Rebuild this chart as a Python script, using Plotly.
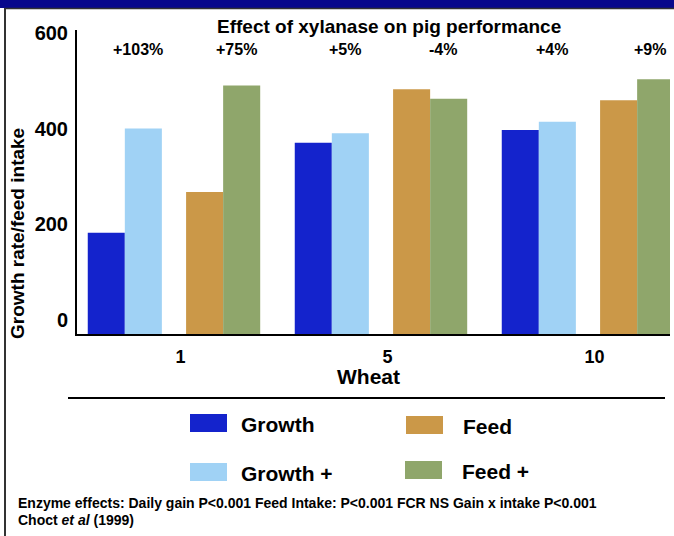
import plotly.graph_objects as go

# Canvas and plot-area geometry (pixels)
W, H = 674, 536
L, R, T, B = 77, 4, 30, 202

# Data
categories = ["1", "5", "10"]
series_names = ["Growth", "Growth +", "Feed", "Feed +"]
growth = [212, 400, 427]
growth_plus = [430, 420, 444]
feed = [297, 512, 489]
feed_plus = [520, 492, 533]
change_labels = ["+103%", "+75%", "+5%", "-4%", "+4%", "+9%"]
y_ticks = [0, 200, 400, 600]

colors = ["#1423CC", "#A0D2F5", "#CB9848", "#8FA66B"]
FONT = "Liberation Sans, Arial, sans-serif"

PW, PH = W - L - R, H - T - B


def px_x(px):
    return (px - L) / PW


def px_y(py):
    return (H - B - py) / PH


def bold(size):
    return dict(family=FONT, size=size, color="black", weight="bold")


# Bar placement within each category slot (x axis units, one unit per category)
BW = 0.179
offsets = [0.052, 0.052 + BW, 0.527, 0.527 + BW]
x_idx = list(range(len(categories)))

fig = go.Figure()
for name, vals, col, off in zip(series_names, [growth, growth_plus, feed, feed_plus], colors, offsets):
    fig.add_trace(go.Bar(
        x=x_idx, y=vals, name=name, marker=dict(color=col, line=dict(width=0)),
        offset=off, width=BW, showlegend=False,
    ))

annotations = []


def note(text, px, py, size, xanchor="center", **kw):
    annotations.append(dict(
        x=px_x(px), y=px_y(py), xref="paper", yref="paper", text=text,
        showarrow=False, xanchor=xanchor, yanchor="middle", font=bold(size), **kw,
    ))


# Percentage change above each pair of bars
pair_centers = []
for i in x_idx:
    pair_centers.append(i + offsets[0] + BW)
    pair_centers.append(i + offsets[2] + BW)
for xc, lab in zip(pair_centers, change_labels):
    annotations.append(dict(
        x=xc, y=px_y(49), xref="x", yref="paper", text=lab, showarrow=False,
        xanchor="center", yanchor="middle", xshift=13, font=bold(16),
    ))

# Title and axis titles
note("Effect of xylanase on pig performance", 389, 27, 19)
note("Growth rate/feed intake", 17, 234, 19, textangle=-90)
note("Wheat", 368, 376, 21)

# Legend drawn as swatches with labels, two columns
shapes = []
legend_pos = [(190, 414), (190, 463), (406, 416), (405, 461)]
label_gap = [49, 49, 55, 55]
for name, col, (sx, sy), gap in zip(series_names, colors, legend_pos, label_gap):
    shapes.append(dict(
        type="rect", xref="paper", yref="paper",
        x0=px_x(sx), x1=px_x(sx + 37), y0=px_y(sy), y1=px_y(sy + 18),
        fillcolor=col, line=dict(width=0),
    ))
    note(name, sx + gap, sy + 10, 21, xanchor="left")

# Footnotes
note("Enzyme effects: Daily gain P<0.001 Feed Intake: P<0.001 FCR NS Gain x intake P<0.001",
     16, 503, 14, xanchor="left")
note("Choct <i>et al</i> (1999)", 16, 520, 14, xanchor="left")

# Rule under the axis title
shapes.append(dict(
    type="line", xref="paper", yref="paper",
    x0=px_x(68), x1=px_x(665), y0=px_y(398), y1=px_y(398),
    line=dict(color="black", width=2),
))

# Slide frame: navy band at the top and a thin border
shapes.append(dict(
    type="rect", xref="paper", yref="paper",
    x0=px_x(0), x1=px_x(W), y0=px_y(0), y1=px_y(8),
    fillcolor="#08088C", line=dict(width=0),
))
shapes.append(dict(
    type="line", xref="paper", yref="paper",
    x0=px_x(5), x1=px_x(W), y0=px_y(8.5), y1=px_y(8.5),
    line=dict(color="#333333", width=1.5),
))
shapes.append(dict(
    type="line", xref="paper", yref="paper",
    x0=px_x(5), x1=px_x(5), y0=px_y(8), y1=px_y(H),
    line=dict(color="#333333", width=2),
))

fig.update_layout(
    width=W, height=H,
    margin=dict(l=L, r=R, t=T, b=B, pad=0),
    paper_bgcolor="white", plot_bgcolor="white",
    barmode="overlay",
    annotations=annotations, shapes=shapes,
    xaxis=dict(
        range=[0, PW / 207], tickvals=[i + 0.5 for i in x_idx], ticktext=categories,
        showline=True, linecolor="black", linewidth=2, showgrid=False, zeroline=False,
        ticks="", tickfont=bold(18), ticklabelstandoff=5,
    ),
    yaxis=dict(
        range=[0, 636], tickvals=y_ticks, ticktext=[str(v) for v in y_ticks],
        showline=True, linecolor="black", linewidth=2, showgrid=False, zeroline=False,
        ticks="", tickfont=bold(20), ticklabelshift=-14, ticklabelstandoff=3,
    ),
)

fig.write_html("out.html")
